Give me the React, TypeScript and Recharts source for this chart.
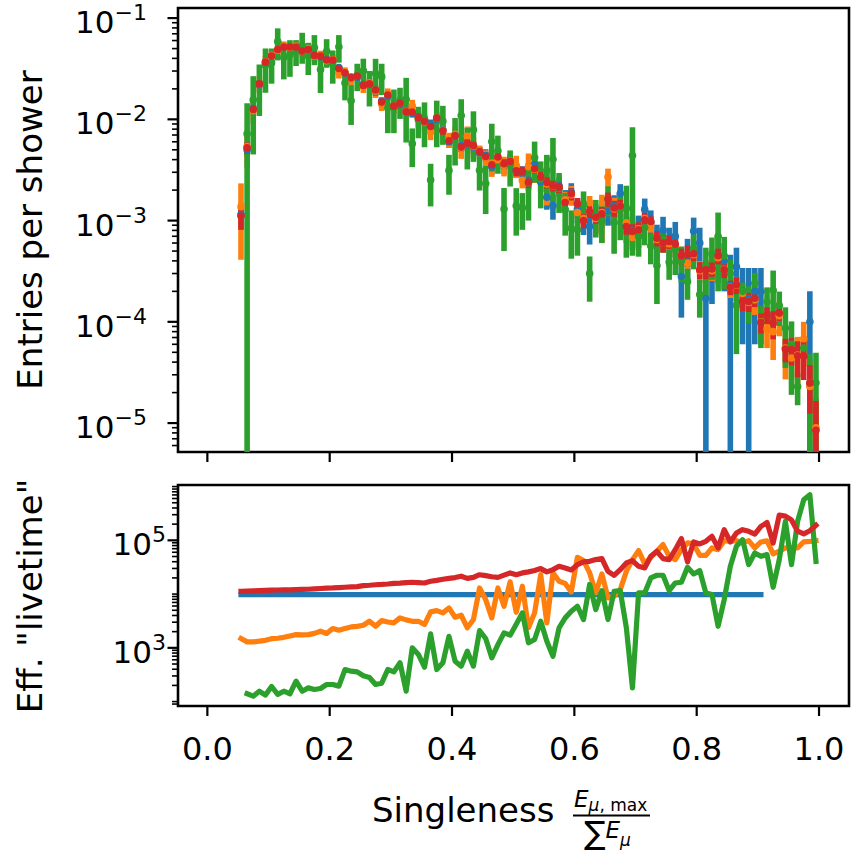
import React from 'react';
import { ScatterChart, Scatter, ErrorBar, XAxis, YAxis, ReferenceArea, LineChart, Line } from 'recharts';

const FONT = 'DejaVu Sans, sans-serif';
const BLUE = '#1f77b4';
const ORANGE = '#ff7f0e';
const GREEN = '#2ca02c';
const RED = '#d62728';

// Bin centres of singleness
const binCenters = [
  0.055, 0.065, 0.075, 0.085, 0.095, 0.105, 0.115, 0.125, 0.135, 0.145,
  0.155, 0.165, 0.175, 0.185, 0.195, 0.205, 0.215, 0.225, 0.235, 0.245,
  0.255, 0.265, 0.275, 0.285, 0.295, 0.305, 0.315, 0.325, 0.335, 0.345,
  0.355, 0.365, 0.375, 0.385, 0.395, 0.405, 0.415, 0.425, 0.435, 0.445,
  0.455, 0.465, 0.475, 0.485, 0.495, 0.505, 0.515, 0.525, 0.535, 0.545,
  0.555, 0.565, 0.575, 0.585, 0.595, 0.605, 0.615, 0.625, 0.635, 0.645,
  0.655, 0.665, 0.675, 0.685, 0.695, 0.705, 0.715, 0.725, 0.735, 0.745,
  0.755, 0.765, 0.775, 0.785, 0.795, 0.805, 0.815, 0.825, 0.835, 0.845,
  0.855, 0.865, 0.875, 0.885, 0.895, 0.905, 0.915, 0.925, 0.935, 0.945,
  0.955, 0.965, 0.975, 0.985, 0.995,
];

// ---- Entries per shower (top panel) ----
const blueEntries = [
  1.15e-3, 5.0e-3, 1.28e-2, 2.2e-2, 3.6e-2, 4.3e-2, 4.8e-2, 5.25e-2, 5.1e-2, 5.2e-2,
  4.8e-2, 4.85e-2, 4.3e-2, 4.15e-2, 3.9e-2, 3.8e-2, 3.25e-2, 2.85e-2, 2.62e-2, 2.6e-2,
  2.2e-2, 2.2e-2, 1.9e-2, 1.52e-2, 1.7e-2, 1.38e-2, 1.4e-2, 1.22e-2, 1.15e-2, 1.06e-2,
  9.8e-3, 9.0e-3, 1.0e-2, 7.9e-3, 6.0e-3, 7.0e-3, 5.5e-3, 5.6e-3, 5.3e-3, 4.7e-3,
  4.4e-3, 3.4e-3, 4.1e-3, 3.5e-3, 3.9e-3, 3.2e-3, 2.9e-3, 2.5e-3, 3.6e-3, 2.4e-3,
  1.7e-3, 1.4e-3, 2.2e-3, 1.6e-3, 1.9e-3, 1.3e-3, 1.05e-3, 8.8e-4, 1.1e-3, 1.2e-3,
  1.25e-3, 1.4e-3, 1.85e-3, 9.0e-4, 8.0e-4, 8.3e-4, 1.29e-3, 9.5e-4, 6.5e-4, 8.0e-4,
  6.0e-4, 7.0e-4, 2.8e-4, 4.5e-4, 7.9e-4, 6.0e-4, 1.7e-4, 3.3e-4, 4.5e-4, 4.0e-4,
  2.3e-4, 3.5e-4, 2.0e-4, 1.7e-4, 2.0e-4, 2.0e-4, null, null, null, null,
  null, null, null, 1.0e-4, null,
];
const blueErrors = [
  3.4e-4, 7.1e-4, 1.14e-3, 1.5e-3, 1.9e-3, 2.1e-3, 2.2e-3, 2.3e-3, 2.3e-3, 2.3e-3,
  2.2e-3, 2.2e-3, 2.1e-3, 2.1e-3, 2.0e-3, 2.0e-3, 1.8e-3, 1.7e-3, 1.6e-3, 1.6e-3,
  1.5e-3, 1.5e-3, 1.4e-3, 1.25e-3, 1.3e-3, 1.2e-3, 1.2e-3, 1.1e-3, 1.1e-3, 1.0e-3,
  1.0e-3, 9.6e-4, 1.0e-3, 9.0e-4, 7.8e-4, 8.5e-4, 7.5e-4, 7.5e-4, 7.4e-4, 6.9e-4,
  6.7e-4, 5.9e-4, 6.5e-4, 6.0e-4, 6.3e-4, 5.7e-4, 5.4e-4, 5.1e-4, 6.0e-4, 4.9e-4,
  4.2e-4, 3.8e-4, 4.7e-4, 4.0e-4, 4.4e-4, 3.6e-4, 3.3e-4, 3.0e-4, 3.4e-4, 3.5e-4,
  3.6e-4, 3.8e-4, 4.4e-4, 3.0e-4, 2.9e-4, 2.9e-4, 3.6e-4, 3.1e-4, 2.6e-4, 2.9e-4,
  2.5e-4, 2.7e-4, 1.7e-4, 2.1e-4, 2.8e-4, 2.5e-4, 1.7e-4, 1.8e-4, 2.1e-4, 2.0e-4,
  2.3e-4, 1.9e-4, 1.4e-4, 1.7e-4, 1.4e-4, 1.4e-4, null, null, null, null,
  null, null, null, 1.0e-4, null,
];

const orangeEntries = [
  1.37e-3, 5.4e-3, 1.22e-2, 2.25e-2, 3.7e-2, 4.3e-2, 4.8e-2, 5.3e-2, 5.1e-2, 5.3e-2,
  4.7e-2, 5.0e-2, 4.2e-2, 4.3e-2, 3.8e-2, 3.9e-2, 2.9e-2, 2.9e-2, 2.5e-2, 2.7e-2,
  2.1e-2, 2.3e-2, 1.9e-2, 1.42e-2, 1.78e-2, 1.36e-2, 1.45e-2, 1.2e-2, 1.35e-2, 1.02e-2,
  9.4e-3, 7.5e-3, 1.03e-2, 7.8e-3, 6.3e-3, 7.1e-3, 5.2e-3, 6.8e-3, 5.4e-3, 4.9e-3,
  4.2e-3, 3.7e-3, 4.0e-3, 3.5e-3, 3.9e-3, 3.5e-3, 2.5e-3, 3.4e-3, 3.2e-3, 2.6e-3,
  2.3e-3, 2.2e-3, 2.1e-3, 1.6e-3, 1.8e-3, 1.2e-3, 1.05e-3, 1.5e-3, 1.05e-3, 1.2e-3,
  2.7e-3, 1.3e-3, 1.4e-3, 9.5e-4, 6.8e-4, 8.3e-4, 1.05e-3, 9.0e-4, 6.5e-4, 6.0e-4,
  5.9e-4, 5.5e-4, 4.4e-4, 3.8e-4, 4.6e-4, 3.2e-4, 3.3e-4, 3.2e-4, 4.3e-4, 3.3e-4,
  2.2e-4, 2.3e-4, 1.9e-4, 1.55e-4, 1.65e-4, 1.0e-4, 8.5e-5, 8.0e-5, 1.15e-4, 5.5e-5,
  4.4e-5, 4.7e-5, 6.8e-5, 2.3e-5, 9.0e-6,
];
const orangeErrors = [
  9.6e-4, 2.05e-3, 3.1e-3, 4.1e-3, 5.2e-3, 5.4e-3, 5.6e-3, 5.8e-3, 5.5e-3, 5.5e-3,
  5.2e-3, 5.3e-3, 4.75e-3, 4.6e-3, 4.5e-3, 4.1e-3, 3.7e-3, 3.6e-3, 3.2e-3, 3.3e-3,
  2.8e-3, 2.7e-3, 2.75e-3, 2.1e-3, 2.4e-3, 2.16e-3, 2.0e-3, 1.9e-3, 2.1e-3, 1.8e-3,
  1.86e-3, 1.27e-3, 1.45e-3, 1.32e-3, 1.07e-3, 1.38e-3, 1.13e-3, 1.7e-3, 1.27e-3, 6.1e-4,
  7.3e-4, 1.0e-3, 5.5e-4, 7.7e-4, 4.8e-4, 8.7e-4, 4.2e-4, 1.2e-3, 8.5e-4, 3.4e-4,
  8.9e-4, 3.0e-4, 3.5e-4, 3.2e-4, 4.0e-4, 1.6e-4, 1.6e-4, 2.5e-4, 3.2e-4, 6.0e-4,
  5.6e-4, 3.8e-4, 3.4e-4, 1.9e-4, 1.25e-4, 1.1e-4, 1.7e-4, 1.4e-4, 1.0e-4, 8.5e-5,
  1.1e-4, 1.1e-4, 8.1e-5, 6.5e-5, 7.3e-5, 7.8e-5, 7.9e-5, 6.7e-5, 8.0e-5, 5.8e-5,
  4.8e-5, 4.8e-5, 4.6e-5, 4.0e-5, 4.8e-5, 3.8e-5, 3.0e-5, 3.8e-5, 4.3e-5, 2.8e-5,
  1.75e-5, 2.4e-5, 3.2e-5, 1.7e-5, 8.8e-6,
];

const greenEntries = [
  null, 7.2e-3, 1.56e-2, 2.28e-2, 3.42e-2, 3.63e-2, 5.87e-2, 4.09e-2, 4.34e-2, 4.71e-2,
  5.35e-2, 4.22e-2, 5.11e-2, 3.1e-2, 4.71e-2, 3.52e-2, 5.21e-2, 2.29e-2, 1.53e-2, 2.72e-2,
  3.01e-2, 2.17e-2, 2.83e-2, 2.64e-2, 1.3e-2, 1.35e-2, 1.53e-2, 1.58e-2, 5.75e-3, 9.9e-3,
  1.0e-2, 2.51e-3, 1.03e-2, 9.6e-3, 3.13e-3, 6.9e-3, 1.09e-2, 5.7e-3, 7.9e-3, 3.14e-3,
  2.32e-3, 6.05e-3, 4.9e-3, 1.3e-3, 3.55e-3, 1.4e-3, 1.34e-3, 2.35e-3, 4.2e-3, 2.58e-3,
  3.13e-3, 4.04e-3, 2.07e-3, 1.29e-3, 8.4e-4, 8.1e-4, 1.44e-3, 3.0e-4, 1.14e-3, 9.9e-4,
  1.64e-3, 9.6e-4, 1.29e-3, 1.32e-3, 4.4e-3, 7.0e-4, 8.5e-4, 5.6e-4, 3.6e-4, 6.5e-4,
  3.9e-4, 5.2e-4, 4.0e-4, 2.5e-4, 5.3e-4, 1.86e-4, 3.6e-4, 4.7e-4, 7.0e-4, 4.5e-4,
  3.0e-4, 1.46e-4, 2.0e-4, 1.6e-4, 2.4e-4, 9.9e-5, 1.58e-4, 2.05e-4, 1.45e-4, 8.7e-5,
  6.0e-5, 2.3e-5, 5.5e-5, 2.5e-5, 2.5e-5,
];
const greenErrors = [
  null, 7.2e-3, 1.11e-2, 1.2e-2, 1.59e-2, 1.38e-2, 2.05e-2, 1.61e-2, 1.71e-2, 1.35e-2,
  1.81e-2, 1.48e-2, 1.68e-2, 1.28e-2, 1.48e-2, 1.27e-2, 1.58e-2, 7.5e-3, 6.5e-3, 8.2e-3,
  9.6e-3, 8.3e-3, 1.13e-2, 9.0e-3, 5.7e-3, 6.2e-3, 5.2e-3, 9.9e-3, 2.38e-3, 3.4e-3,
  4.7e-3, 1.13e-3, 5.0e-3, 4.0e-3, 1.33e-3, 3.4e-3, 4.9e-3, 2.5e-3, 4.1e-3, 1.16e-3,
  1.16e-3, 3.0e-3, 2.0e-3, 8.0e-4, 1.38e-3, 6.9e-4, 5.3e-4, 1.35e-3, 1.83e-3, 1.26e-3,
  1.33e-3, 2.5e-3, 8.8e-4, 5.8e-4, 4.2e-4, 3.6e-4, 5.0e-4, 1.42e-4, 4.6e-4, 3.9e-4,
  5.4e-4, 4.9e-4, 6.5e-4, 8.9e-4, 3.95e-3, 2.6e-4, 2.8e-4, 1.9e-4, 2.1e-4, 1.7e-4,
  1.3e-4, 2.3e-4, 1.55e-4, 8.5e-5, 2.0e-4, 7.6e-5, 1.8e-4, 2.1e-4, 5.0e-4, 2.4e-4,
  1.1e-4, 9.8e-5, 4.4e-5, 6.4e-5, 6.4e-5, 4.4e-5, 6.1e-5, 1.16e-4, 5.4e-5, 5.2e-5,
  4.1e-5, 8.0e-6, 9.8e-6, 2.3e-5, 2.45e-5,
];

const redEntries = [
  1.11e-3, 5.24e-3, 1.25e-2, 2.24e-2, 3.67e-2, 4.22e-2, 4.9e-2, 5.18e-2, 5.18e-2, 5.18e-2,
  4.72e-2, 4.9e-2, 4.28e-2, 4.22e-2, 3.85e-2, 3.85e-2, 3.18e-2, 2.88e-2, 2.57e-2, 2.67e-2,
  2.16e-2, 2.24e-2, 1.95e-2, 1.48e-2, 1.74e-2, 1.35e-2, 1.44e-2, 1.19e-2, 1.18e-2, 1.04e-2,
  9.53e-3, 8.51e-3, 1.03e-2, 7.71e-3, 6.14e-3, 6.89e-3, 5.32e-3, 5.82e-3, 5.48e-3, 4.82e-3,
  4.3e-3, 3.56e-3, 4.24e-3, 3.64e-3, 3.84e-3, 3.1e-3, 3.06e-3, 2.4e-3, 3.25e-3, 2.69e-3,
  2.38e-3, 2.21e-3, 2.14e-3, 1.51e-3, 1.84e-3, 1.47e-3, 1.0e-3, 1.23e-3, 1.08e-3, 1.17e-3,
  1.63e-3, 1.33e-3, 1.4e-3, 8.75e-4, 7.81e-4, 8.11e-4, 1.02e-3, 9.8e-4, 6.71e-4, 5.99e-4,
  6.22e-4, 5.86e-4, 4.49e-4, 4.59e-4, 4.7e-4, 3.27e-4, 3.27e-4, 3.32e-4, 4.49e-4, 3.27e-4,
  2.19e-4, 2.32e-4, 1.59e-4, 1.59e-4, 1.71e-4, 9.86e-5, 1.17e-4, 9.71e-5, 1.22e-4, 5.38e-5,
  5.31e-5, 4.63e-5, 4.56e-5, 2.49e-5, 8.5e-6,
];
const redErrors = [
  3.0e-4, 6.8e-4, 1.05e-3, 1.4e-3, 1.8e-3, 1.9e-3, 2.1e-3, 2.1e-3, 2.1e-3, 2.1e-3,
  2.0e-3, 2.1e-3, 1.9e-3, 1.9e-3, 1.8e-3, 1.8e-3, 1.6e-3, 1.5e-3, 1.4e-3, 1.4e-3,
  1.25e-3, 1.3e-3, 1.2e-3, 1.0e-3, 1.1e-3, 9.6e-4, 1.0e-3, 8.8e-4, 8.8e-4, 8.1e-4,
  7.9e-4, 7.3e-4, 7.8e-4, 6.5e-4, 5.8e-4, 5.9e-4, 5.0e-4, 5.5e-4, 5.2e-4, 4.7e-4,
  4.3e-4, 4.1e-4, 4.5e-4, 4.0e-4, 4.0e-4, 3.7e-4, 3.5e-4, 3.0e-4, 3.4e-4, 3.2e-4,
  3.0e-4, 2.6e-4, 2.7e-4, 2.3e-4, 2.6e-4, 2.0e-4, 1.6e-4, 1.7e-4, 1.5e-4, 1.9e-4,
  2.6e-4, 2.4e-4, 2.0e-4, 1.5e-4, 1.4e-4, 1.5e-4, 1.9e-4, 1.2e-4, 1.15e-4, 1.15e-4,
  9.7e-5, 7.4e-5, 7.9e-5, 1.1e-4, 7.1e-5, 6.2e-5, 6.3e-5, 5.3e-5, 7.9e-5, 5.7e-5,
  3.6e-5, 4.4e-5, 3.2e-5, 3.4e-5, 3.1e-5, 2.2e-5, 2.2e-5, 3.0e-5, 2.0e-5, 1.4e-5,
  1.6e-5, 1.8e-5, 1.9e-5, 1.25e-5, 8.0e-6,
];

// ---- Effective "livetime" (bottom panel) ----
const blueLivetime = [
  9800, 9800, 9800, 9800, 9800, 9800, 9800, 9800, 9800, 9800,
  9800, 9800, 9800, 9800, 9800, 9800, 9800, 9800, 9800, 9800,
  9800, 9800, 9800, 9800, 9800, 9800, 9800, 9800, 9800, 9800,
  9800, 9800, 9800, 9800, 9800, 9800, 9800, 9800, 9800, 9800,
  9800, 9800, 9800, 9800, 9800, 9800, 9800, 9800, 9800, 9800,
  9800, 9800, 9800, 9800, 9800, 9800, 9800, 9800, 9800, 9800,
  9800, 9800, 9800, 9800, 9800, 9800, 9800, 9800, 9800, 9800,
  9800, 9800, 9800, 9800, 9800, 9800, 9800, 9800, 9800, 9800,
  9800, 9800, 9800, 9800, 9800, 9800, null, null, null, null,
  null, null, null, null, null,
];
const orangeLivetime = [
  1490, 1290, 1290, 1330, 1380, 1480, 1510, 1570, 1660, 1760,
  1740, 1760, 1860, 2040, 1850, 2290, 2130, 2290, 2450, 2510,
  2630, 3120, 2520, 3210, 3020, 2920, 3610, 3310, 3120, 3120,
  2710, 4670, 4930, 4470, 5530, 3710, 4040, 2360, 3360, 13000,
  7910, 3610, 13000, 5930, 16900, 4590, 14000, 2360, 4470, 23000,
  2920, 24800, 17300, 15800, 11000, 48300, 42000, 24800, 10500, 23700,
  8500, 9100, 12100, 26500, 43800, 64400, 36400, 48300, 63100, 83200,
  50500, 43800, 67100, 89500, 85700, 52600, 52600, 72300, 67100, 98600,
  95900, 98600, 91200, 98600, 72300, 93300, 97700, 56200, 63100, 72300,
  72300, 72300, 93300, 95500, 98600,
];
const greenLivetime = [
  null, 140, 126, 156, 132, 191, 136, 156, 140, 240,
  156, 180, 168, 175, 208, 208, 194, 395, 368, 358,
  302, 281, 208, 220, 395, 358, 526, 156, 1000, 752,
  437, 1820, 395, 526, 1640, 565, 456, 865, 456, 2090,
  1490, 652, 1150, 1900, 1720, 2750, 4470, 1240, 1430, 3120,
  1330, 698, 2360, 3610, 4800, 5930, 3360, 15100, 5150, 11600,
  3360, 11300, 11600, 2360, 180, 10500, 10500, 20000, 22400, 22400,
  11600, 16100, 16600, 31500, 23700, 27300, 10500, 9800, 2520, 7910,
  32900, 77300, 103000, 35300, 58300, 50500, 54200, 13400, 43800, 226000,
  35300, 226000, 570000, 706000, 40700,
];
const redLivetime = [
  11300, 11400, 11500, 11600, 11700, 11800, 11900, 12000, 12000, 12100,
  12200, 12300, 12500, 12700, 12900, 13000, 13200, 13400, 13600, 13800,
  14400, 14600, 14900, 15100, 15400, 15800, 16000, 16300, 16600, 16400,
  16100, 17300, 18000, 18900, 19600, 20300, 21500, 19600, 20400, 22900,
  22000, 21000, 20500, 22500, 24800, 23000, 24800, 25900, 27400, 29800,
  25900, 28500, 32900, 30600, 28100, 35300, 39600, 40700, 43800, 45700,
  26500, 22300, 28500, 38000, 42000, 32900, 30600, 50500, 62500, 45700,
  43800, 67100, 107600, 39600, 93300, 85700, 95900, 118600, 72300, 158000,
  93300, 137000, 158000, 147000, 131000, 182000, 214000, 89100, 295000, 282000,
  240000, 148000, 132000, 151000, 191000,
];

// ---- Axes ----
const xTickValues = [0, 0.2, 0.4, 0.6, 0.8, 1.0];
const X_DOMAIN: [number, number] = [-0.048, 1.049];
const ENTRIES_DOMAIN: [number, number] = [5.18e-6, 0.1258];
const LIVETIME_DOMAIN: [number, number] = [82.8, 1.07e6];
const entriesLabeledTicks = [1e-5, 1e-4, 1e-3, 1e-2, 1e-1];
const livetimeLabeledTicks = [1e3, 1e5];

function decadeTicks(lo: number, hi: number): number[] {
  const out: number[] = [];
  for (let d = Math.floor(Math.log10(lo)); d <= Math.ceil(Math.log10(hi)); d++) {
    for (let k = 1; k <= 9; k++) {
      const v = k * Math.pow(10, d);
      if (v >= lo && v <= hi) out.push(v);
    }
  }
  return out;
}
const entriesTicks = decadeTicks(ENTRIES_DOMAIN[0], ENTRIES_DOMAIN[1]);
const livetimeTicks = decadeTicks(LIVETIME_DOMAIN[0], LIVETIME_DOMAIN[1]);

type Pt = { x: number; y: number; err: number };
const toPoints = (vals: (number | null)[], errs: (number | null)[]): Pt[] =>
  binCenters.flatMap((x, i) =>
    vals[i] == null ? [] : [{ x, y: vals[i] as number, err: errs[i] as number }]
  );

const entrySeries = [
  { name: 'blue', color: BLUE, data: toPoints(blueEntries, blueErrors) },
  { name: 'orange', color: ORANGE, data: toPoints(orangeEntries, orangeErrors) },
  { name: 'green', color: GREEN, data: toPoints(greenEntries, greenErrors) },
  { name: 'red', color: RED, data: toPoints(redEntries, redErrors) },
];

const livetimeRows = binCenters.map((x, i) => ({
  x,
  blue: blueLivetime[i],
  orange: orangeLivetime[i],
  green: greenLivetime[i],
  red: redLivetime[i],
}));

// a lower arm that would pass below the axis floor is cut at the floor (frame clip).
const errExtent = (d: any) => {
  const p: Pt = d && d.payload ? d.payload : d;
  return [Math.min(p.err, p.y - ENTRIES_DOMAIN[0]), p.err];
};

const XTick = (props: any) => {
  const { x, y, payload, showLabel } = props;
  return (
    <g>
      <line x1={x} x2={x} y1={y} y2={y + 10} stroke="#000" strokeWidth={2.2} />
      {showLabel && (
        <text x={x} y={y + 54} textAnchor="middle" fontSize={32} fontFamily={FONT} fill="#000">
          {Number(payload.value).toFixed(1)}
        </text>
      )}
    </g>
  );
};

const YTick = (props: any) => {
  const { x, y, payload, labeled, gap } = props;
  const v = payload.value as number;
  const isMajor = (labeled as number[]).some((m) => Math.abs(v / m - 1) < 1e-9);
  const exp = Math.round(Math.log10(v));
  return (
    <g>
      <line
        x1={x}
        x2={x - (isMajor ? 10.5 : 6)}
        y1={y}
        y2={y}
        stroke="#000"
        strokeWidth={isMajor ? 2.2 : 1.6}
      />
      {isMajor && (
        <text x={x - gap} y={y + 15} textAnchor="end" fontSize={31} fontFamily={FONT} fill="#000">
          10
          <tspan dy={-13} fontSize={22}>
            {exp < 0 ? `\u2212${-exp}` : `${exp}`}
          </tspan>
        </text>
      )}
    </g>
  );
};

export default function App() {
  return (
    <div style={{ position: 'absolute', left: 0, top: 0, width: 860, height: 856, background: '#fff', fontFamily: FONT }}>
      <div style={{ position: 'absolute', left: 0, top: 0 }}>
        <ScatterChart width={860} height={471} margin={{ top: 8, right: 11, bottom: 0, left: 0 }}>
          <XAxis
            type="number"
            dataKey="x"
            domain={X_DOMAIN}
            allowDataOverflow
            ticks={xTickValues}
            interval={0}
            tick={<XTick showLabel={false} />}
            tickLine={false}
            axisLine={false}
            tickSize={0}
            tickMargin={0}
            height={19}
          />
          <YAxis
            type="number"
            dataKey="y"
            scale="log"
            domain={ENTRIES_DOMAIN}
            allowDataOverflow
            ticks={entriesTicks}
            interval={0}
            tick={<YTick labeled={entriesLabeledTicks} gap={31} />}
            tickLine={false}
            axisLine={false}
            tickSize={0}
            tickMargin={0}
            width={178}
          />
          {entrySeries.map((s) => (
            <Scatter
              key={s.name}
              name={s.name}
              data={s.data}
              fill={s.color}
              isAnimationActive={false}
              shape={(p: any) => <circle cx={p.cx} cy={p.cy} r={3.8} fill={s.color} />}
            >
              <ErrorBar
                dataKey={errExtent as any}
                direction="y"
                width={0}
                stroke={s.color}
                strokeWidth={5.6}
                isAnimationActive={false}
              />
            </Scatter>
          ))}
          <ReferenceArea
            x1={X_DOMAIN[0]}
            x2={X_DOMAIN[1]}
            y1={ENTRIES_DOMAIN[0]}
            y2={ENTRIES_DOMAIN[1]}
            fill="none"
            stroke="#000"
            strokeWidth={2.6}
            ifOverflow="visible"
          />
        </ScatterChart>
      </div>
      <div style={{ position: 'absolute', left: 0, top: 470 }}>
        <LineChart width={860} height={386} data={livetimeRows} margin={{ top: 15, right: 11, bottom: 0, left: 0 }}>
          <XAxis
            type="number"
            dataKey="x"
            domain={X_DOMAIN}
            allowDataOverflow
            ticks={xTickValues}
            interval={0}
            tick={<XTick showLabel />}
            tickLine={false}
            axisLine={false}
            tickSize={0}
            tickMargin={0}
            height={150}
          />
          <YAxis
            type="number"
            scale="log"
            domain={LIVETIME_DOMAIN}
            allowDataOverflow
            ticks={livetimeTicks}
            interval={0}
            tick={<YTick labeled={livetimeLabeledTicks} gap={12} />}
            tickLine={false}
            axisLine={false}
            tickSize={0}
            tickMargin={0}
            width={178}
          />
          {[
            { key: 'blue', color: BLUE },
            { key: 'orange', color: ORANGE },
            { key: 'green', color: GREEN },
            { key: 'red', color: RED },
          ].map((s) => (
            <Line
              key={s.key}
              dataKey={s.key}
              type="linear"
              stroke={s.color}
              strokeWidth={5.2}
              strokeLinejoin="round"
              strokeLinecap="square"
              dot={false}
              activeDot={false}
              connectNulls={false}
              isAnimationActive={false}
            />
          ))}
          <ReferenceArea
            x1={X_DOMAIN[0]}
            x2={X_DOMAIN[1]}
            y1={LIVETIME_DOMAIN[0]}
            y2={LIVETIME_DOMAIN[1]}
            fill="none"
            stroke="#000"
            strokeWidth={2.6}
            ifOverflow="visible"
          />
        </LineChart>
      </div>
      <svg
        width={860}
        height={856}
        style={{ position: 'absolute', left: 0, top: 0, pointerEvents: 'none' }}
        fontFamily={FONT}
      >
        <text x={42} y={230} transform="rotate(-90 42 230)" textAnchor="middle" fontSize={34} fill="#000">
          Entries per shower
        </text>
        <text x={42} y={596} transform="rotate(-90 42 596)" textAnchor="middle" fontSize={34} fill="#000">
          Eff. "livetime"
        </text>
        <text x={372} y={822} fontSize={34} fill="#000">
          Singleness
        </text>
        <text x={574} y={807} fontSize={23} fill="#000">
          <tspan fontStyle="italic">E</tspan>
          <tspan dy={4} fontSize={17} fontStyle="italic">μ</tspan>
          <tspan fontSize={17}>, max</tspan>
        </text>
        <line x1={573} x2={650} y1={815.5} y2={815.5} stroke="#000" strokeWidth={2} />
        <text x={584} y={844} fontSize={32} fill="#000">
          ∑
          <tspan dy={-6} fontSize={23} fontStyle="italic">E</tspan>
          <tspan dy={8} fontSize={17} fontStyle="italic">μ</tspan>
        </text>
      </svg>
    </div>
  );
}
